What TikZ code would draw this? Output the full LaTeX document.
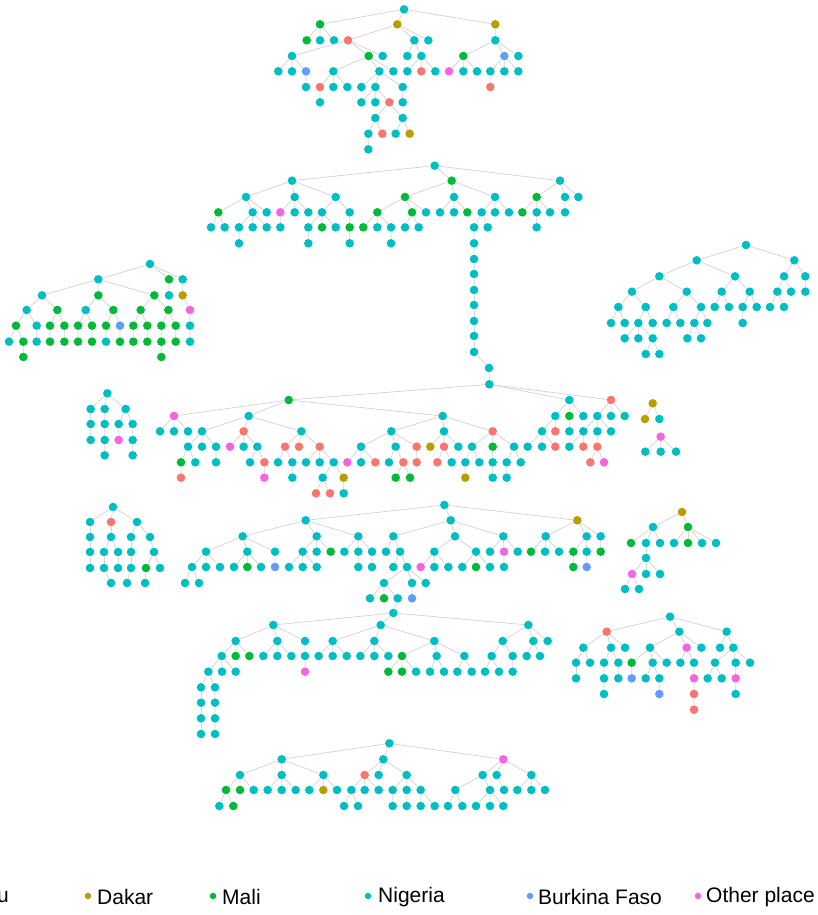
\documentclass[tikz,border=0pt]{standalone}
\usepackage{fontspec}
\setmainfont{Liberation Sans}

\definecolor{cR}{HTML}{F8766D}
\definecolor{cO}{HTML}{B79F00}
\definecolor{cG}{HTML}{00BA38}
\definecolor{cN}{HTML}{00BFC4}
\definecolor{cB}{HTML}{619CFF}
\definecolor{cP}{HTML}{F564E3}

% one branch list: name/x/y/colour/parent
\newcommand{\kin}[1]{%
  \foreach \n/\x/\y/\col/\up in {#1} {%
    \node[dot, fill=\col] (\n) at (\x,\y) {};
    \draw[link] (\up) -- (\n);
  }}

\begin{document}
\begin{tikzpicture}[
	x=1pt, y=-1pt,
	dot/.style={circle, inner sep=0pt, minimum size=8.6pt},
	link/.style={draw=black!17, line width=0.75pt},
	key/.style={circle, inner sep=0pt, minimum size=6.5pt},
	keytext/.style={font=\fontsize{21}{21}\selectfont, anchor=west, inner sep=0pt}
	]
	
	\useasboundingbox (0,0) rectangle (817,915);
	
	% --- TOP TREE ---
	\begin{scope}[shift={(260,0)}, scale=1/3]
		\node[dot, fill=cN] (a0) at (432,28) {};
		\kin{a1/180/73/cG/a0, a2/412/73/cO/a0, a3/706/73/cO/a0,
			a4/140/121/cG/a1, a5/180/121/cN/a1, a6/222/121/cN/a1, a7/264/121/cR/a2, a8/463/121/cN/a2, a9/505/121/cN/a2, a10/706/121/cN/a3,
			a11/96/168/cN/a7, a12/326/168/cG/a7, a13/368/168/cN/a7, a14/442/168/cN/a8, a15/484/168/cN/a8, a16/610/168/cG/a10, a17/733/168/cB/a10, a18/775/168/cN/a10,
			a19/55/214/cN/a11, a20/96/214/cN/a11, a21/138/214/cB/a11, a22/220/214/cN/a12, a23/358/214/cN/a12, a24/400/214/cN/a12, a25/442/214/cN/a15, a26/484/214/cR/a15, a27/526/214/cN/a15, a28/567/214/cP/a16, a29/610/214/cN/a16, a30/651/214/cN/a16, a31/691/214/cN/a17, a32/733/214/cN/a17, a33/775/214/cN/a17,
			a34/138/261/cN/a21, a35/180/261/cR/a22, a36/220/261/cN/a22, a37/262/261/cN/a22, a38/304/261/cN/a23, a39/346/261/cN/a23, a40/428/261/cN/a23, a41/691/261/cR/a31,
			a42/180/307/cN/a35, a43/304/307/cN/a39, a44/346/307/cN/a39, a45/388/307/cR/a39, a46/428/307/cN/a40,
			a47/346/354/cN/a45, a48/428/354/cN/a45,
			a49/325/401/cN/a47, a50/367/401/cR/a47, a51/407/401/cN/a48, a52/449/401/cO/a48,
			a53/325/448/cN/a49}
	\end{scope}
	
	% --- SECOND TREE ---
	\begin{scope}[shift={(200,155)}, scale=1/3]
		\node[dot, fill=cN] (b0) at (704,32) {};
		\kin{b1/276/77/cN/b0, b2/755/77/cG/b0, b3/1080/77/cN/b0,
			b4/138/126/cN/b1, b5/284/126/cN/b1, b6/407/126/cN/b1, b7/615/126/cG/b2, b8/762/126/cN/b2, b9/885/126/cN/b2, b10/1010/126/cG/b3, b11/1095/126/cN/b3, b12/1135/126/cN/b3,
			b13/55/172/cG/b4, b14/158/172/cN/b4, b15/200/172/cN/b4, b16/241/172/cP/b5, b17/284/172/cN/b5, b18/325/172/cN/b5, b19/366/172/cN/b6, b20/449/172/cN/b6, b21/532/172/cG/b7, b22/636/172/cG/b7, b23/678/172/cN/b7, b24/720/172/cN/b8, b25/762/172/cN/b8, b26/802/172/cG/b8, b27/845/172/cN/b9, b28/885/172/cN/b9, b29/927/172/cN/b9, b30/967/172/cG/b10, b31/1010/172/cN/b10, b32/1050/172/cN/b10, b33/1095/172/cN/b11,
			b34/33/217/cN/b13, b35/74/217/cN/b13, b36/117/217/cN/b14, b37/158/217/cN/b14, b38/200/217/cN/b14, b39/241/217/cN/b16, b40/325/217/cN/b19, b41/366/217/cG/b19, b42/407/217/cN/b19, b43/449/217/cG/b20, b44/490/217/cG/b21, b45/532/217/cN/b21, b46/573/217/cN/b21, b47/615/217/cN/b22, b48/656/217/cN/b22, b49/822/217/cN/b27, b50/863/217/cN/b27, b51/1010/217/cN/b31,
			b52/117/265/cN/b36, b53/325/265/cN/b40, b54/449/265/cN/b43, b55/573/265/cN/b46, b56/822/265/cN/b49}
	\end{scope}
	
	% long chain down to the middle tree
	\kin{bc1/474/259/cN/b56, bc2/474/274/cN/bc1, bc3/474/290/cN/bc2, bc4/474/305/cN/bc3, bc5/474/321/cN/bc4, bc6/474/336/cN/bc5, bc7/474/352/cN/bc6, bc8/489/368/cN/bc7}
	
	% --- LEFT TREE (mostly Mali) ---
	\begin{scope}[shift={(0,255)}, scale=1/3]
		\node[dot, fill=cN] (c0) at (450,27) {};
		\kin{c1/295/73/cN/c0, c2/507/73/cG/c0, c3/548/73/cN/c0,
			c4/126/121/cN/c1, c5/295/121/cG/c1, c6/463/121/cG/c1, c7/507/121/cN/c2, c8/548/121/cO/c3,
			c9/80/165/cN/c4, c10/172/165/cG/c4, c11/257/165/cN/c5, c12/340/165/cG/c5, c13/422/165/cG/c6, c14/505/165/cG/c6, c15/570/165/cP/c8,
			c16/48/212/cG/c9, c17/110/212/cN/c9, c18/150/212/cG/c10, c19/193/212/cG/c10, c20/234/212/cG/c11, c21/276/212/cG/c11, c22/318/212/cG/c12, c23/360/212/cB/c12, c24/400/212/cG/c13, c25/442/212/cG/c13, c26/484/212/cG/c14, c27/527/212/cG/c14, c28/570/212/cN/c15,
			c29/27/260/cN/c16, c30/70/260/cG/c16, c31/110/260/cN/c17, c32/150/260/cG/c18, c33/193/260/cG/c19, c34/234/260/cG/c20, c35/276/260/cG/c21, c36/318/260/cN/c22, c37/360/260/cG/c23, c38/400/260/cG/c24, c39/442/260/cG/c25, c40/484/260/cG/c26, c41/527/260/cG/c27, c42/570/260/cN/c28,
			c43/70/306/cG/c30, c44/484/306/cG/c40}
	\end{scope}
	
	% --- RIGHT TREE (all Nigeria) ---
	\begin{scope}[shift={(600,235)}, scale=1/3]
		\node[dot, fill=cN] (d0) at (438,30) {};
		\kin{d1/290/76/cN/d0, d2/583/76/cN/d0,
			d3/178/124/cN/d1, d4/405/124/cN/d1, d5/552/124/cN/d2, d6/616/124/cN/d2,
			d7/96/170/cN/d3, d8/260/170/cN/d3, d9/365/170/cN/d4, d10/449/170/cN/d4, d11/532/170/cN/d5, d12/573/170/cN/d5, d13/616/170/cN/d6,
			d14/55/216/cN/d7, d15/137/216/cN/d7, d16/220/216/cN/d8, d17/303/216/cN/d8, d18/344/216/cN/d9, d19/387/216/cN/d9, d20/428/216/cN/d10, d21/470/216/cN/d10, d22/510/216/cN/d11, d23/552/216/cN/d11,
			d24/33/264/cN/d14, d25/74/264/cN/d14, d26/115/264/cN/d15, d27/158/264/cN/d15, d28/200/264/cN/d16, d29/241/264/cN/d16, d30/283/264/cN/d17, d31/322/264/cN/d17, d32/428/264/cN/d20,
			d33/74/310/cN/d26, d34/115/310/cN/d26, d35/158/310/cN/d26, d36/262/310/cN/d30, d37/303/310/cN/d30,
			d38/137/357/cN/d35, d39/178/357/cN/d35}
	\end{scope}
	
	% --- MIDDLE TREE ---
	\begin{scope}[shift={(150,375)}, scale=1/3]
		\node[dot, fill=cN] (e0) at (1018,28) {};
		\draw[link] (bc8) -- (e0);
		\kin{e1/416/75/cG/e0, e2/1258/75/cN/e0, e3/1383/75/cR/e0,
			e4/72/123/cP/e1, e5/296/123/cN/e1, e6/878/123/cN/e1, e7/1216/123/cN/e2, e8/1258/123/cG/e2, e9/1300/123/cN/e2, e10/1342/123/cN/e3, e11/1383/123/cN/e3, e12/1424/123/cN/e3,
			e13/30/169/cN/e4, e14/72/169/cN/e4, e15/114/169/cN/e4, e16/156/169/cN/e5, e17/281/169/cR/e5, e18/454/169/cN/e5, e19/724/169/cN/e6, e20/882/169/cN/e6, e21/1028/169/cR/e6, e22/1176/169/cN/e7, e23/1216/169/cR/e7, e24/1258/169/cN/e8, e25/1300/169/cN/e10, e26/1342/169/cN/e10, e27/1383/169/cN/e10,
			e28/114/215/cN/e16, e29/156/215/cN/e16, e30/198/215/cN/e16, e31/240/215/cP/e17, e32/281/215/cN/e17, e33/322/215/cN/e17, e34/405/215/cR/e18, e35/447/215/cR/e18, e36/509/215/cR/e18, e37/633/215/cN/e19, e38/737/215/cN/e19, e39/800/215/cR/e19, e40/841/215/cO/e20, e41/882/215/cR/e20, e42/925/215/cN/e20, e43/966/215/cN/e21, e44/1028/215/cG/e21, e45/1092/215/cN/e21, e46/1133/215/cN/e22, e47/1176/215/cN/e22, e48/1216/215/cR/e22, e49/1258/215/cN/e25, e50/1300/215/cR/e25, e51/1342/215/cR/e26,
			e52/93/262/cG/e28, e53/136/262/cN/e28, e54/198/262/cN/e30, e55/300/262/cN/e33, e56/343/262/cR/e33, e57/384/262/cN/e34, e58/427/262/cN/e34, e59/468/262/cN/e36, e60/509/262/cN/e36, e61/551/262/cN/e36, e62/592/262/cP/e37, e63/633/262/cN/e37, e64/676/262/cR/e37, e65/717/262/cN/e38, e66/760/262/cR/e38, e67/800/262/cR/e39, e68/862/262/cR/e41, e69/905/262/cN/e41, e70/946/262/cN/e43, e71/988/262/cN/e43, e72/1028/262/cN/e44, e73/1070/262/cN/e45, e74/1112/262/cN/e45, e75/1321/262/cR/e51, e76/1362/262/cP/e51,
			e77/93/308/cR/e52, e78/343/308/cP/e56, e79/427/308/cN/e58, e80/518/308/cN/e61, e81/581/308/cO/e61, e82/737/308/cG/e66, e83/780/308/cG/e66, e84/946/308/cO/e70, e85/1028/308/cN/e72, e86/1070/308/cN/e73,
			e87/498/355/cR/e80, e88/540/355/cR/e80, e89/581/355/cN/e81}
	\end{scope}
	
	% --- SMALL TREES BESIDE IT ---
	\begin{scope}[shift={(80,380)}, scale=1/3]
		\node[dot, fill=cN] (g0) at (82,40) {};
		\kin{g1/32/87/cN/g0, g2/74/87/cN/g0, g3/137/87/cN/g0,
			g4/32/132/cN/g1, g5/74/132/cN/g2, g6/116/132/cN/g3, g7/158/132/cN/g3,
			g8/32/180/cN/g4, g9/74/180/cN/g5, g10/116/180/cP/g6, g11/158/180/cN/g7,
			g12/74/226/cN/g9, g13/158/226/cN/g11}
	\end{scope}
	
	\begin{scope}[shift={(630,390)}, scale=1/3]
		\node[dot, fill=cO] (h0) at (68,40) {};
		\kin{h1/45/87/cO/h0, h2/88/87/cN/h0}
		\node[dot, fill=cP] (h3) at (92,140) {};
		\kin{h4/46/185/cN/h3, h5/92/185/cN/h3, h6/138/185/cN/h3}
	\end{scope}
	
	% --- FOURTH ROW ---
	\begin{scope}[shift={(170,495)}, scale=1/3]
		\node[dot, fill=cN] (f0) at (823,30) {};
		\kin{f1/407/76/cN/f0, f2/842/76/cN/f0, f3/1222/76/cO/f0,
			f4/218/124/cN/f1, f5/440/124/cN/f1, f6/565/124/cN/f1, f7/670/124/cN/f2, f8/855/124/cN/f2, f9/1000/124/cN/f2, f10/1127/124/cN/f3, f11/1250/124/cN/f3, f12/1292/124/cN/f3,
			f13/108/170/cN/f4, f14/232/170/cN/f4, f15/315/170/cN/f4, f16/398/170/cN/f5, f17/440/170/cN/f5, f18/482/170/cG/f5, f19/523/170/cN/f6, f20/565/170/cN/f6, f21/606/170/cN/f6, f22/648/170/cN/f7, f23/690/170/cN/f7, f24/793/170/cN/f8, f25/918/170/cN/f8, f26/960/170/cN/f9, f27/1002/170/cP/f9, f28/1043/170/cN/f9, f29/1083/170/cG/f10, f30/1125/170/cN/f10, f31/1167/170/cN/f10, f32/1210/170/cG/f11, f33/1250/170/cN/f11, f34/1292/170/cG/f12,
			f35/66/216/cN/f13, f36/108/216/cN/f13, f37/150/216/cN/f13, f38/192/216/cN/f14, f39/232/216/cG/f14, f40/273/216/cN/f14, f41/315/216/cB/f15, f42/357/216/cN/f16, f43/398/216/cN/f16, f44/440/216/cN/f16, f45/565/216/cN/f20, f46/606/216/cN/f21, f47/670/216/cN/f23, f48/711/216/cN/f23, f49/752/216/cP/f24, f50/793/216/cN/f24, f51/835/216/cN/f24, f52/877/216/cN/f25, f53/918/216/cG/f25, f54/960/216/cN/f25, f55/1002/216/cN/f27, f56/1210/216/cG/f32, f57/1250/216/cB/f33,
			f58/45/264/cN/f35, f59/87/264/cN/f35, f60/642/264/cN/f48, f61/726/264/cN/f48, f62/767/264/cN/f48,
			f63/600/310/cN/f60, f64/642/310/cG/f60, f65/683/310/cN/f60, f66/726/310/cB/f61}
	\end{scope}
	
	\node[dot, fill=cN] (l0) at (113,507) {};
	\kin{l1/90/522/cN/l0, l2/111/522/cR/l0, l3/137/522/cN/l0,
		l4/90/537/cN/l1, l5/111/537/cN/l2, l6/131/537/cN/l3, l7/150/537/cN/l3,
		l8/90/552/cN/l4, l9/104/552/cN/l5, l10/118/552/cN/l5, l11/131/552/cN/l6, l12/154/552/cN/l7,
		l13/90/568/cN/l8, l14/104/568/cN/l9, l15/118/568/cN/l10, l16/131/568/cN/l11, l17/146/568/cG/l12, l18/160/568/cN/l12,
		l19/111/583/cN/l14, l20/127/583/cN/l16, l21/145/583/cN/l17}
	
	\node[dot, fill=cO] (m0) at (682,512) {};
	\kin{m1/653/527/cN/m0, m2/688/527/cG/m0,
		m3/631/543/cG/m1, m4/646/543/cN/m1, m5/660/543/cN/m1, m6/674/543/cN/m2, m7/688/543/cG/m2, m8/702/543/cN/m2, m9/716/543/cN/m2,
		m10/646/558/cN/m4,
		m11/632/574/cP/m10, m12/646/574/cN/m10, m13/660/574/cN/m10,
		m14/625/589/cN/m11, m15/639/589/cN/m11}
	
	% --- FIFTH ROW ---
	\begin{scope}[shift={(190,610)}, scale=1/3]
		\node[dot, fill=cN] (i0) at (610,9) {};
		\draw[link] (f65) -- (i0);
		\kin{i1/250/45/cN/i0, i2/572/45/cN/i0, i3/1015/45/cN/i0,
			i4/137/93/cN/i1, i5/262/93/cN/i1, i6/345/93/cN/i1, i7/428/93/cN/i2, i8/553/93/cN/i2, i9/733/93/cN/i2, i10/938/93/cN/i3, i11/1030/93/cN/i3, i12/1073/93/cN/i3,
			i13/95/138/cN/i4, i14/137/138/cG/i4, i15/178/138/cG/i4, i16/220/138/cN/i5, i17/262/138/cN/i5, i18/304/138/cN/i5, i19/345/138/cN/i6, i20/386/138/cN/i7, i21/428/138/cN/i7, i22/470/138/cN/i7, i23/511/138/cN/i8, i24/553/138/cN/i8, i25/595/138/cN/i8, i26/636/138/cG/i9, i27/740/138/cN/i9, i28/823/138/cN/i9, i29/905/138/cN/i10, i30/968/138/cN/i10, i31/1010/138/cN/i11, i32/1050/138/cN/i11,
			i33/55/185/cN/i13, i34/96/185/cN/i13, i35/137/185/cN/i13, i36/345/185/cP/i19, i37/595/185/cG/i26, i38/636/185/cG/i26, i39/678/185/cN/i26, i40/720/185/cN/i27, i41/762/185/cN/i27, i42/802/185/cN/i28, i43/845/185/cN/i28, i44/885/185/cN/i29, i45/927/185/cN/i29, i46/968/185/cN/i30,
			i47/33/232/cN/i33, i48/75/232/cN/i33, i49/33/278/cN/i47, i50/75/278/cN/i48, i51/33/325/cN/i49, i52/75/325/cN/i50, i53/33/372/cN/i51, i54/75/372/cN/i52}
	\end{scope}
	
	\begin{scope}[shift={(570,615)}, scale=1/3]
		\node[dot, fill=cN] (j0) at (300,5) {};
		\kin{j1/110/50/cR/j0, j2/328/50/cN/j0, j3/470/50/cN/j0,
			j4/40/98/cN/j1, j5/123/98/cN/j1, j6/165/98/cN/j1, j7/240/98/cN/j2, j8/350/98/cP/j2, j9/394/98/cN/j2, j10/450/98/cN/j3, j11/490/98/cN/j3,
			j12/18/143/cN/j4, j13/60/143/cN/j4, j14/102/143/cN/j5, j15/145/143/cN/j5, j16/185/143/cG/j7, j17/248/143/cN/j7, j18/290/143/cN/j7, j19/331/143/cN/j8, j20/372/143/cN/j8, j21/435/143/cN/j11, j22/497/143/cN/j11, j23/540/143/cN/j11,
			j24/18/190/cN/j12, j25/102/190/cN/j14, j26/145/190/cN/j15, j27/185/190/cB/j16, j28/227/190/cN/j17, j29/268/190/cN/j17, j30/372/190/cP/j20, j31/413/190/cN/j21, j32/455/190/cN/j21, j33/497/190/cP/j22,
			j34/102/237/cN/j25, j35/268/237/cB/j29, j36/372/237/cR/j30, j37/497/237/cN/j33,
			j38/372/284/cR/j36}
	\end{scope}
	
	% --- BOTTOM TREE ---
	\begin{scope}[shift={(210,735)}, scale=1/3]
		\node[dot, fill=cN] (k0) at (538,25) {};
		\kin{k1/215/73/cN/k0, k2/520/73/cN/k0, k3/880/73/cP/k0,
			k4/90/120/cN/k1, k5/215/120/cN/k1, k6/340/120/cN/k1, k7/464/120/cR/k2, k8/506/120/cN/k2, k9/590/120/cN/k2, k10/818/120/cN/k3, k11/860/120/cN/k3, k12/964/120/cN/k3,
			k13/48/165/cG/k4, k14/90/165/cG/k4, k15/131/165/cN/k4, k16/173/165/cN/k5, k17/215/165/cN/k5, k18/257/165/cN/k5, k19/298/165/cN/k6, k20/340/165/cO/k6, k21/381/165/cN/k6, k22/424/165/cN/k7, k23/464/165/cN/k7, k24/506/165/cN/k7, k25/548/165/cN/k9, k26/590/165/cN/k9, k27/632/165/cN/k9, k28/736/165/cN/k10, k29/840/165/cN/k10, k30/882/165/cN/k11, k31/922/165/cN/k12, k32/964/165/cN/k12, k33/1005/165/cN/k12,
			k34/28/213/cN/k13, k35/70/213/cG/k13, k36/402/213/cN/k22, k37/444/213/cN/k22, k38/548/213/cN/k25, k39/590/213/cN/k26, k40/632/213/cN/k27, k41/674/213/cN/k27, k42/714/213/cN/k28, k43/757/213/cN/k28, k44/798/213/cN/k29, k45/840/213/cN/k29, k46/880/213/cN/k29}
	\end{scope}
	
	% --- LEGEND ---
	\node[keytext] (tR) at (-3,897) {u};
	\node[key, fill=cO] (kO) at (88,896) {};
	\node[keytext] (tO) at (97,897) {Dakar};
	\node[key, fill=cG] (kG) at (213,896) {};
	\node[keytext] (tG) at (222,897) {Mali};
	\node[key, fill=cN] (kN) at (368,896) {};
	\node[keytext] (tN) at (378,897) {Nigeria};
	\node[key, fill=cB] (kB) at (530,896) {};
	\node[keytext] (tB) at (538,897) {Burkina Faso};
	\node[key, fill=cP] (kP) at (698,896) {};
	\node[keytext] (tP) at (706,897) {Other place};
	
\end{tikzpicture}
\end{document}
